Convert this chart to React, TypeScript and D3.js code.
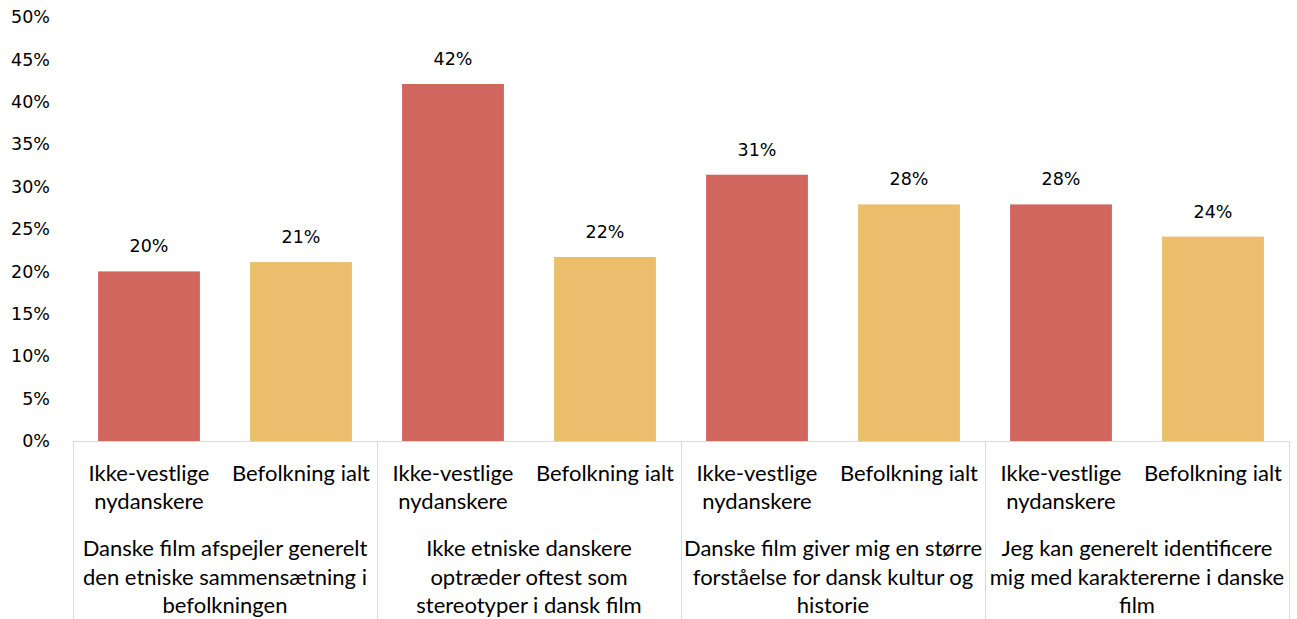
import React from "react";
import * as d3 from "d3";

const groups: string[][] = [
  ["Danske film afspejler generelt", "den etniske sammensætning i", "befolkningen"],
  ["Ikke etniske danskere", "optræder oftest som", "stereotyper i dansk film"],
  ["Danske film giver mig en større", "forståelse for dansk kultur og", "historie"],
  ["Jeg kan generelt identificere", "mig med karaktererne i danske", "film"],
];
const subLabels: string[][] = [["Ikke-vestlige", "nydanskere"], ["Befolkning ialt"]];
const seriesNames = ["Ikke-vestlige nydanskere", "Befolkning ialt"];
const ikkeVestlige = [20.0, 42.1, 31.4, 27.9];
const befolkning = [21.1, 21.7, 27.9, 24.1];
const yTicks = [0, 5, 10, 15, 20, 25, 30, 35, 40, 45, 50];
const colors = ["#d1665e", "#ebbe6e"];

const W = 1297, H = 619;
const left = 73, right = 1289, top = 17, base = 441;
const catFont = "Lato, 'Noto Sans', sans-serif";
const numFont = "'DejaVu Sans', sans-serif";

export default function App() {
  const bars = groups.flatMap((_, g) => [
    { g, s: 0, v: ikkeVestlige[g] },
    { g, s: 1, v: befolkning[g] },
  ]);
  const x = d3.scaleBand<number>().domain(d3.range(bars.length)).range([left, right]).paddingInner(0.33).paddingOuter(0.165);
  const y = d3.scaleLinear().domain([0, 50]).range([base, top]);
  const groupStep = (right - left) / groups.length;
  const gx = (i: number) => left + i * groupStep;
  return (
    <svg width={W} height={H} style={{ position: "absolute", left: 0, top: 0, background: "#fff" }}>
      {yTicks.map((t) => (
        <text key={t} x={50} y={y(t)} dy="0.35em" textAnchor="end" fontFamily={numFont} fontSize={17.5} fill="#000">
          {t}%
        </text>
      ))}
      {bars.map((b, i) => (
        <g key={i}>
          <rect x={x(i)} y={y(b.v)} width={x.bandwidth()} height={base - y(b.v)} fill={colors[b.s]}>
            <title>{seriesNames[b.s]}</title>
          </rect>
          <text x={(x(i) as number) + x.bandwidth() / 2} y={y(b.v) - 19} textAnchor="middle" fontFamily={numFont} fontSize={17.5} fill="#000">
            {d3.format(".0f")(b.v)}%
          </text>
          {subLabels[b.s].map((l, k) => (
            <text key={k} x={(x(i) as number) + x.bandwidth() / 2} y={481 + k * 28} textAnchor="middle" fontFamily={catFont} fontSize={22} fill="#000">
              {l}
            </text>
          ))}
        </g>
      ))}
      <line x1={left} x2={right} y1={base + 0.5} y2={base + 0.5} stroke="#d9d9d9" strokeWidth={1} />
      {d3.range(groups.length + 1).map((i) => (
        <line key={i} x1={gx(i) + 0.5} x2={gx(i) + 0.5} y1={base} y2={H} stroke="#d9d9d9" strokeWidth={1} />
      ))}
      {groups.map((lines, g) =>
        lines.map((l, k) => (
          <text key={g + "-" + k} x={gx(g) + groupStep / 2} y={556 + k * 28.5} textAnchor="middle" fontFamily={catFont} fontSize={22} fill="#000">
            {l}
          </text>
        ))
      )}
    </svg>
  );
}
